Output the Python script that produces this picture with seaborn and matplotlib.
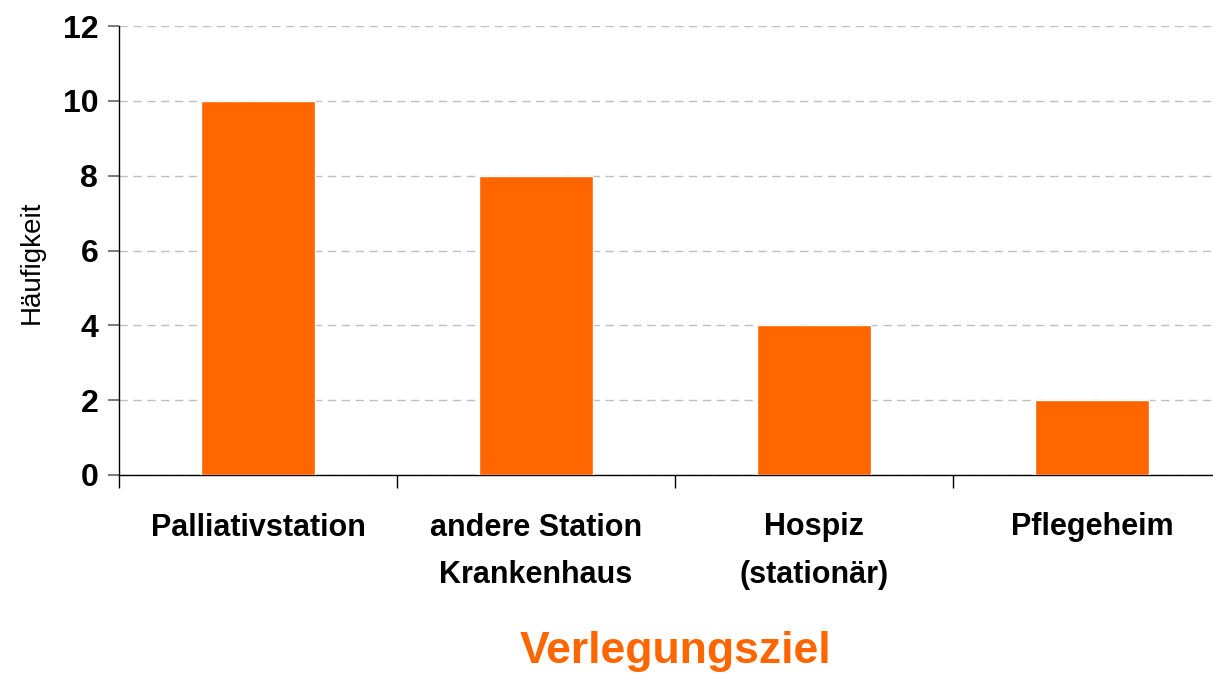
import matplotlib
matplotlib.use("Agg")
import matplotlib.pyplot as plt
import seaborn as sns
import pandas as pd

# data
ziele = ["Palliativstation", "andere Station\nKrankenhaus", "Hospiz\n(stationär)", "Pflegeheim"]
haeufigkeit = [10, 8, 4, 2]
y_ticks = [0, 2, 4, 6, 8, 10, 12]

ORANGE = "#FF6600"

sns.set_style("white")
plt.rcParams["font.family"] = ["Liberation Sans", "DejaVu Sans"]
plt.rcParams["text.color"] = "black"
plt.rcParams["axes.labelcolor"] = "black"
plt.rcParams["xtick.color"] = "black"
plt.rcParams["ytick.color"] = "black"

df = pd.DataFrame({"Verlegungsziel": ziele, "Häufigkeit": haeufigkeit})

fig = plt.figure(figsize=(12.13, 6.77), dpi=100)
ax = fig.add_axes([119 / 1213, 1 - 475 / 677, 1112 / 1213, 449 / 677])

sns.barplot(data=df, x="Verlegungsziel", y="Häufigkeit", color=ORANGE,
            saturation=1, width=0.41, ax=ax, zorder=3)

ax.set_xlim(-0.5, len(ziele) - 0.5)
ax.set_ylim(0, 12)
ax.set_yticks(y_ticks)
ax.yaxis.grid(True, color="#bfbfbf", linestyle=(0, (6, 4)), linewidth=1)
ax.set_axisbelow(True)

for s in ["top", "right"]:
    ax.spines[s].set_visible(False)
for s in ["left", "bottom"]:
    ax.spines[s].set_color("black")
    ax.spines[s].set_linewidth(1)

# x ticks sit at category boundaries, labels centred on bars
ax.set_xticks([i - 0.5 for i in range(len(ziele))])
ax.set_xticklabels([])
ax.set_xticks(range(len(ziele)), minor=True)
ax.set_xticklabels(ziele, minor=True, fontsize=22, fontweight="bold", linespacing=1.75)
ax.tick_params(axis="x", which="major", bottom=True, direction="out", length=9,
               width=1, color="black")
ax.tick_params(axis="x", which="minor", bottom=True, length=0, pad=27)
ax.tick_params(axis="y", left=True, direction="out", length=8, width=1.3,
               color="#707070", labelsize=23, pad=7)
for lbl in ax.get_yticklabels():
    lbl.set_fontweight("bold")

ax.set_ylabel("Häufigkeit", fontsize=20)
ax.yaxis.set_label_coords(-0.0665, 0.474)
ax.set_xlabel("Verlegungsziel", fontsize=32, fontweight="bold", color=ORANGE, labelpad=30)

fig.savefig("out.png", dpi=100)
